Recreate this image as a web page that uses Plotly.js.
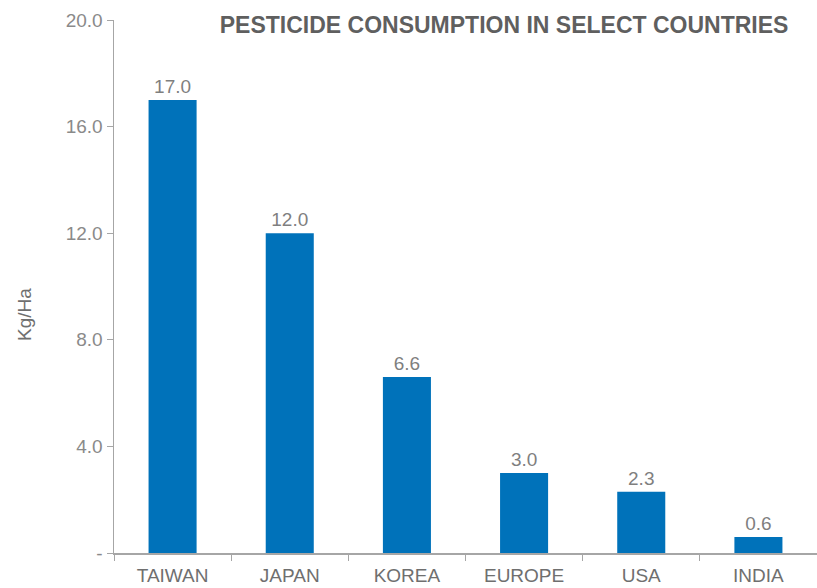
<!DOCTYPE html>
<html>
<head>
<meta charset="utf-8">
<script src="https://cdn.plot.ly/plotly-3.0.1.min.js"></script>
<style>html,body{margin:0;padding:0;background:#fff;}#chart{width:817px;height:588px;}</style>
</head>
<body>
<div id="chart"></div>
<script>
const countries = ["TAIWAN", "JAPAN", "KOREA", "EUROPE", "USA", "INDIA"];
const consumption = [17.0, 12.0, 6.6, 3.0, 2.3, 0.6];
const yTickVals = [0, 4, 8, 12, 16, 20];
const yTickText = ["-", "4.0", "8.0", "12.0", "16.0", "20.0"];
const yTitle = "Kg/Ha";

const trace = {
  type: "bar",
  x: countries,
  y: consumption,
  marker: {color: "#0072BA"},
  texttemplate: "%{y:.1f}",
  textposition: "outside",
  cliponaxis: false,
  textfont: {family: "Liberation Sans, Arial, sans-serif", size: 19, color: "#7f7f7f"},
  hoverinfo: "x+y"
};

const layout = {
  width: 817, height: 588,
  margin: {l: 114, r: 0, t: 20, b: 35},
  paper_bgcolor: "#ffffff",
  plot_bgcolor: "#ffffff",
  showlegend: false,
  bargap: 0.59,
  font: {family: "Liberation Sans, Arial, sans-serif", color: "#7f7f7f"},
  title: {
    text: "<b>PESTICIDE CONSUMPTION IN SELECT COUNTRIES</b>",
    font: {family: "Liberation Sans, Arial, sans-serif", size: 23, color: "#5f5f5f"},
    x: 0.617, xanchor: "center", xref: "container",
    y: 0.957, yanchor: "middle", yref: "container"
  },
  xaxis: {
    type: "category",
    showgrid: false,
    showline: true, linecolor: "#a6a6a6", linewidth: 1.5,
    ticks: "outside", tickson: "boundaries", ticklen: 6, tickcolor: "#a6a6a6",
    ticklabelstandoff: 5,
    tickfont: {size: 19, color: "#6f6f6f"},
    zeroline: false
  },
  yaxis: {
    range: [0, 20],
    tickvals: yTickVals, ticktext: yTickText,
    showgrid: false, zeroline: false,
    showline: true, linecolor: "#a6a6a6", linewidth: 1.5,
    ticks: "outside", ticklen: 6, tickcolor: "#a6a6a6",
    tickfont: {size: 19, color: "#8a8a8a"}
  },
  annotations: [{
    text: yTitle, textangle: -90,
    xref: "paper", yref: "paper",
    x: -0.128, y: 0.4465, xanchor: "center", yanchor: "middle",
    showarrow: false,
    font: {family: "Liberation Sans, Arial, sans-serif", size: 19, color: "#6f6f6f"}
  }]
};

Plotly.newPlot("chart", [trace], layout, {displayModeBar: false, staticPlot: true});
</script>
</body>
</html>
